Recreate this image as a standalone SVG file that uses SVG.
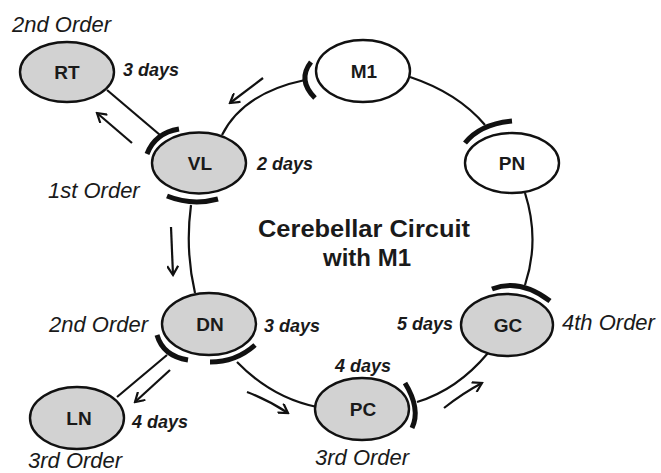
<svg xmlns="http://www.w3.org/2000/svg" width="661" height="473" viewBox="0 0 661 473">
<defs>
<marker id="ah" markerWidth="12" markerHeight="12" refX="10" refY="6" orient="auto" markerUnits="userSpaceOnUse">
<path d="M1,0.5 L10,6 L1,11.5" fill="none" stroke="#111" stroke-width="2.2"/>
</marker>
<style>
.node ellipse{stroke:#111;stroke-width:2.4}
.gray{fill:#d2d2d2}
.white{fill:#fff}
.lbl{font-family:"Liberation Sans",Arial,sans-serif;font-weight:bold;font-size:19px;fill:#1a1a1a;text-anchor:middle}
.ord{font-family:"Liberation Sans",Arial,sans-serif;font-style:italic;font-size:22px;fill:#1a1a1a}
.day{font-family:"Liberation Sans",Arial,sans-serif;font-style:italic;font-weight:bold;font-size:18px;fill:#1a1a1a}
.title{font-family:"Liberation Sans",Arial,sans-serif;font-weight:bold;font-size:24px;fill:#1a1a1a;text-anchor:middle}
.ln{fill:none;stroke:#111;stroke-width:2.2}
.bar{fill:none;stroke:#111;stroke-width:5}
.arr{fill:none;stroke:#111;stroke-width:2.2;marker-end:url(#ah)}
</style>
</defs>
<rect width="661" height="473" fill="#fff"/>
<g id="connectors">
<path class="ln" d="M222,135 Q243,93 305,80"/>
<path class="bar" d="M311,62 Q297,80 315,98"/>
<path class="ln" d="M410,77 Q458,93 485,125"/>
<path class="bar" d="M465,143 Q480,124 512,121"/>
<path class="ln" d="M525,193 Q540,240 525,285"/>
<path class="bar" d="M492,289 Q520,278 550,301"/>
<path class="ln" d="M488,353 Q457,390 417,402"/>
<path class="bar" d="M405,383 Q421,409 412,428"/>
<path class="ln" d="M237,362 Q272,398 317,407"/>
<path class="bar" d="M210,362 Q236,362 255,345"/>
<path class="ln" d="M167,355 L117,397"/>
<path class="bar" d="M157,335 Q163,356 188,360"/>
<path class="ln" d="M191,205 Q185,250 195,293"/>
<path class="bar" d="M167,196 Q192,206 218,199"/>
<path class="ln" d="M160,135 L107,90"/>
<path class="bar" d="M147,154 Q155,133 179,129"/>
<path class="arr" d="M263,78 L230,103"/>
<path class="arr" d="M132,143 L97,113"/>
<path class="arr" d="M171,227 L173,275"/>
<path class="arr" d="M170,370 L135,402"/>
<path class="arr" d="M247,392 Q268,400 288,413"/>
<path class="arr" d="M444,408 Q463,393 482,383"/>
</g>
<g id="RT" class="node"><ellipse class="gray" cx="67" cy="72" rx="47" ry="30"/><text class="lbl" x="67" y="79">RT</text></g>
<g id="VL" class="node"><ellipse class="gray" cx="199" cy="163" rx="47" ry="30.5"/><text class="lbl" x="200" y="170">VL</text></g>
<g id="M1" class="node"><ellipse class="white" cx="363" cy="71" rx="47" ry="31"/><text class="lbl" x="364" y="78">M1</text></g>
<g id="PN" class="node"><ellipse class="white" cx="512" cy="163" rx="47" ry="30"/><text class="lbl" x="512" y="170">PN</text></g>
<g id="DN" class="node"><ellipse class="gray" cx="209" cy="324" rx="47" ry="31"/><text class="lbl" x="210" y="331">DN</text></g>
<g id="GC" class="node"><ellipse class="gray" cx="507" cy="325" rx="46" ry="31"/><text class="lbl" x="508" y="332">GC</text></g>
<g id="PC" class="node"><ellipse class="gray" cx="362" cy="409" rx="47" ry="31"/><text class="lbl" x="363" y="416">PC</text></g>
<g id="LN" class="node"><ellipse class="gray" cx="77" cy="418" rx="47" ry="31"/><text class="lbl" x="79" y="425">LN</text></g>
<g id="labels">
<text class="ord" x="12" y="32">2nd Order</text>
<text class="day" x="123" y="76">3 days</text>
<text class="day" x="257" y="170">2 days</text>
<text class="ord" x="48" y="198">1st Order</text>
<text class="ord" x="49" y="332">2nd Order</text>
<text class="day" x="264" y="332">3 days</text>
<text class="day" x="132" y="428">4 days</text>
<text class="ord" x="28" y="468">3rd Order</text>
<text class="day" x="335" y="372">4 days</text>
<text class="ord" x="315" y="465">3rd Order</text>
<text class="day" x="397" y="330">5 days</text>
<text class="ord" x="562" y="330">4th Order</text>
<text class="title" x="364" y="237" textLength="212" lengthAdjust="spacingAndGlyphs">Cerebellar Circuit</text>
<text class="title" x="367" y="266">with M1</text>
</g>
</svg>
